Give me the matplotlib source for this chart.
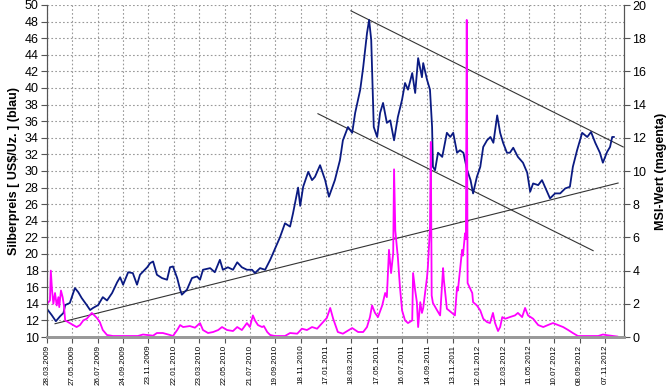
import pandas as pd
import matplotlib
matplotlib.use('Agg')
from matplotlib import pyplot as plt

plt.rcParams['font.family'] = ['Liberation Sans', 'DejaVu Sans']

start = pd.Timestamp('2009-03-28')

# silver price (US$/oz), days counted from 28.03.2009
price_days = [2, 11, 21, 31, 39, 43, 54, 66, 74, 82, 94, 102, 109, 121, 132, 142,
              154, 166, 173, 180, 192, 203, 213, 220, 237, 244, 251, 260, 272, 284,
              291, 298, 308, 315, 319, 331, 343, 355, 362, 369, 386, 397, 409, 416,
              428, 440, 450, 461, 473, 485, 492, 504, 516, 528, 539, 551, 563, 575,
              582, 592, 594, 599, 606, 618, 627, 634, 646, 658, 667, 681, 693, 700,
              712, 722, 729, 741, 748, 757, 762, 767, 771, 773, 781, 788, 795, 804,
              812, 821, 830, 840, 847, 854, 864, 871, 878, 887, 890, 899, 906, 911,
              913, 918, 925, 935, 946, 954, 961, 970, 977, 985, 994, 1002, 1008,
              1017, 1025, 1032, 1041, 1049, 1056, 1065, 1072, 1079, 1088, 1095,
              1103, 1114, 1126, 1136, 1143, 1150, 1162, 1171, 1178, 1190, 1202,
              1214, 1226, 1237, 1244, 1254, 1266, 1278, 1287, 1297, 1308, 1315,
              1325, 1332, 1337, 1341]
price = [13.25, 12.65, 11.9, 12.5, 12.9, 13.85, 14.1, 15.9, 15.4, 14.7, 13.85, 13.25,
         13.5, 13.85, 14.8, 14.4, 15.3, 16.6, 17.2, 16.3, 17.8, 17.7, 16.3, 17.5,
         18.4, 18.9, 19.1, 17.5, 17.1, 16.9, 18.4, 18.5, 17.1, 15.7, 15.1, 15.7,
         17.1, 17.3, 16.9, 18.1, 18.3, 17.8, 19.3, 18.1, 18.4, 18.1, 19.0, 18.4,
         18.1, 18.1, 17.7, 18.3, 18.1, 19.3, 20.6, 22.0, 23.7, 23.3, 24.9, 27.5,
         28.0, 25.8, 28.1, 29.9, 28.9, 29.3, 30.7, 28.9, 26.9, 28.9, 31.3, 33.7,
         35.3, 34.6, 37.0, 39.8, 42.5, 46.6, 48.2, 45.8, 38.9, 35.3, 34.1, 37.0,
         38.2, 35.8, 36.1, 33.7, 36.5, 38.6, 40.6, 39.8, 41.8, 39.4, 43.6, 41.3,
         43.0, 41.0, 39.8, 35.3, 30.5, 30.1, 32.2, 31.7, 34.6, 34.1, 34.6, 32.2,
         32.5, 32.2, 30.1, 28.9, 27.3, 29.3, 30.5, 32.9, 33.7, 34.1, 33.4, 36.7,
         34.6, 33.4, 32.2, 32.2, 32.8, 31.7, 31.0, 29.8, 27.5, 28.5, 28.3, 28.9,
         28.1, 26.7, 27.3, 27.3, 27.9, 28.1, 30.5, 32.5, 34.6, 34.1, 34.7, 33.4,
         32.2, 31.0, 32.3, 32.9, 34.1, 34.1]

# MSI value, days counted from 28.03.2009
msi_days = [2, 7, 9, 12, 15, 19, 23, 27, 29, 33, 37, 40, 43, 54, 70, 78, 86, 94, 106,
            118, 125, 132, 142, 156, 215, 227, 251, 260, 274, 291, 298, 308, 315,
            322, 338, 350, 362, 369, 381, 393, 405, 414, 426, 440, 450, 461, 473,
            480, 487, 492, 499, 509, 513, 521, 528, 539, 563, 575, 592, 603, 615,
            627, 639, 651, 662, 670, 677, 688, 700, 722, 736, 748, 757, 764, 769,
            776, 783, 793, 800, 804, 809, 814, 819, 821, 824, 830, 835, 840, 847,
            854, 864, 866, 871, 875, 878, 883, 887, 890, 899, 901, 906, 908, 910,
            913, 923, 930, 937, 939, 946, 951, 958, 965, 970, 972, 977, 982, 984,
            989, 991, 993, 995, 1006, 1008, 1017, 1025, 1032, 1041, 1048, 1055,
            1060, 1067, 1072, 1077, 1084, 1095, 1107, 1114, 1124, 1131, 1138, 1150,
            1162, 1174, 1185, 1197, 1209, 1221, 1233, 1244, 1256, 1304, 1315, 1327,
            1349]
msi = [2.05, 2.2, 4.0, 2.8, 2.0, 2.65, 1.9, 2.4, 1.8, 2.8, 2.4, 1.9, 1.0, 0.84, 0.6,
       0.72, 1.0, 1.1, 1.45, 1.15, 0.9, 0.42, 0.12, 0.06, 0.06, 0.15, 0.08, 0.24,
       0.24, 0.12, 0.06, 0.42, 0.72, 0.6, 0.66, 0.56, 0.84, 0.42, 0.24, 0.3, 0.42,
       0.6, 0.42, 0.36, 0.6, 0.42, 0.84, 0.6, 1.3, 1.0, 0.72, 0.6, 0.66, 0.3, 0.12,
       0.06, 0.06, 0.24, 0.2, 0.5, 0.42, 0.6, 0.5, 0.84, 1.15, 1.75, 1.1, 0.3, 0.2,
       0.54, 0.3, 0.3, 0.6, 1.2, 1.9, 1.45, 1.2, 1.9, 2.65, 2.4, 5.25, 3.85, 5.05,
       10.1, 6.4, 4.8, 3.0, 1.6, 1.0, 0.84, 1.0, 3.85, 2.8, 2.1, 0.6, 2.1, 1.45,
       1.75, 3.6, 4.2, 6.6, 11.75, 2.5, 2.05, 1.6, 1.3, 4.15, 3.4, 1.7, 1.6, 1.45,
       1.3, 3.0, 2.8, 4.0, 5.25, 4.9, 6.25, 5.9, 19.1, 3.25, 2.65, 2.1, 1.9, 1.6,
       1.1, 0.9, 0.84, 1.45, 0.84, 0.36, 0.6, 1.2, 1.1, 1.2, 1.3, 1.45, 1.2, 1.75,
       1.3, 1.1, 0.72, 0.6, 0.72, 0.84, 0.72, 0.6, 0.42, 0.24, 0.06, 0.06, 0.15,
       0.1, 0.03]

# trend lines: (start day, end day) and (start price, end price)
trend_days = [(19, 1351), (719, 1363), (641, 1292)]
trend_vals = [(11.6, 28.55), (49.3, 32.9), (36.9, 20.4)]

tick_labels = ['28.03.2009', '27.05.2009', '26.07.2009', '24.09.2009', '23.11.2009',
               '22.01.2010', '23.03.2010', '22.05.2010', '21.07.2010', '19.09.2010',
               '18.11.2010', '17.01.2011', '18.03.2011', '17.05.2011', '16.07.2011',
               '14.09.2011', '13.11.2011', '12.01.2012', '12.03.2012', '11.05.2012',
               '10.07.2012', '08.09.2012', '07.11.2012']
tick_days = [(pd.to_datetime(s, format='%d.%m.%Y') - start).days for s in tick_labels]

fig = plt.figure(figsize=(6.7, 3.88), dpi=100)
ax = fig.add_axes([47 / 670, 1 - 337 / 388, 577 / 670, 332 / 388])
ax2 = ax.twinx()

ax.grid(True, color='#999999', linestyle=(0, (1.5, 2)), linewidth=0.8)
ax.set_axisbelow(True)

for (d0, d1), (v0, v1) in zip(trend_days, trend_vals):
    ax.plot([d0, d1], [v0, v1], color='#333333', linewidth=0.8)
ax.plot(price_days, price, color='#0a1a82', linewidth=1.3)
ax2.plot(msi_days, msi, color='#ff00ff', linewidth=1.3)

ax.set_xlim(0, 1365)
ax.set_ylim(10, 50)
ax2.set_ylim(0, 20)
ax.set_yticks(range(10, 51, 2))
ax2.set_yticks(range(0, 21, 2))
ax.set_xticks(tick_days)
ax.set_xticklabels(tick_labels, rotation=90, fontsize=5.8)

for a in (ax, ax2):
    a.spines['top'].set_visible(False)
    a.spines['left'].set_color('#555555')
    a.spines['right'].set_color('#555555')
    a.spines['bottom'].set_color('#999999')
    a.spines['bottom'].set_linewidth(2)
ax.tick_params(axis='y', labelsize=9, length=4, color='#555555', pad=2)
ax2.tick_params(axis='y', labelsize=9, length=4, color='#555555', pad=2)
ax.tick_params(axis='x', length=4, color='#555555', pad=1.5)

ax.set_ylabel('Silberpreis [ US$/Uz. ] (blau)', fontsize=9, fontweight='bold', labelpad=3)
ax2.set_ylabel('MSI-Wert (magenta)', fontsize=9, fontweight='bold', labelpad=6)

fig.savefig('out.png', dpi=100)
